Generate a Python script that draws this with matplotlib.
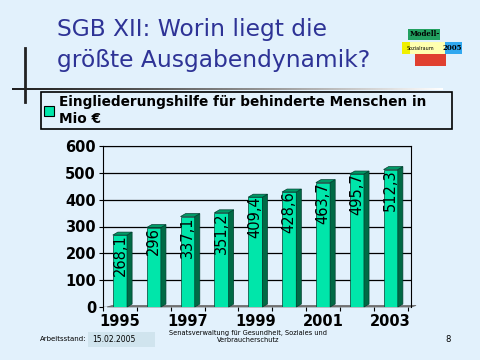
import numpy as np
import matplotlib
matplotlib.use("Agg")
import matplotlib.pyplot as plt
from matplotlib.patches import Polygon, Rectangle

# data
years = [1995, 1996, 1997, 1998, 1999, 2000, 2001, 2002, 2003]
values = [268.1, 296, 337.1, 351.2, 409.4, 428.6, 463.7, 495.7, 512.3]
labels = ["268,1", "296", "337,1", "351,2", "409,4", "428,6", "463,7", "495,7", "512,3"]
yticks = [0, 100, 200, 300, 400, 500, 600]
series_name = "Eingliederungshilfe für behinderte Menschen in\nMio €"

W, H = 480, 360
bg = "#E2F1FC"
front = "#00E6AA"
side = "#006A45"
title_col = "#2E3396"

plt.rcParams["font.family"] = ["DejaVu Sans"]
fig = plt.figure(figsize=(W / 100, H / 100), dpi=100, facecolor=bg)


def fx(px):
    return px / W


def fy(py):
    return 1 - py / H


# title
fig.text(fx(57), fy(18), "SGB XII: Worin liegt die\ngrößte Ausgabendynamik?",
         color=title_col, fontsize=16.8, va="top", ha="left", linespacing=1.42)

# cross lines
fig.add_artist(plt.Line2D([fx(25), fx(25)], [fy(48), fy(102)], color="#222222", lw=2))
gax = fig.add_axes([fx(12), fy(90), fx(443) - fx(12), fy(88) - fy(90)])
gax.imshow(np.linspace(0, 1, 256).reshape(1, -1) ** 1.2, aspect="auto", cmap="gray",
           vmin=-0.15, vmax=1.0)
gax.axis("off")

# chart
ax = fig.add_axes([fx(103), fy(307), fx(411) - fx(103), fy(146) - fy(307)])
ax.set_facecolor(bg)
x = np.arange(len(years))
bw = 0.42
dx, dy = 0.15, 11
ax.set_xlim(-0.38, 8.6)
ax.set_ylim(0, 600)
ax.set_yticks(yticks)
ax.grid(axis="y", color="black", lw=0.9)
ax.set_axisbelow(True)

# floor
ax.add_patch(Polygon([(-0.38, 0), (8.6, 0), (8.6 + dx, dy * 0.5), (-0.38 + dx, dy * 0.5)],
                     closed=True, facecolor="#7A7A7A", edgecolor="#606060", lw=0.5,
                     clip_on=False, zorder=2))

bars = ax.bar(x, values, width=bw, color=front, edgecolor="#004030", lw=0.5, zorder=4)
for xi, v in zip(x, values):
    r = xi + bw / 2
    l = xi - bw / 2
    ax.add_patch(Polygon([(r, 0), (r + dx, dy), (r + dx, v + dy), (r, v)], closed=True,
                         facecolor=side, edgecolor="#004030", lw=0.5, zorder=4, clip_on=False))
    ax.add_patch(Polygon([(l, v), (l + dx, v + dy), (r + dx, v + dy), (r, v)], closed=True,
                         facecolor="#009A66", edgecolor="#004030", lw=0.5, zorder=4, clip_on=False))
for xi, v, t in zip(x, values, labels):
    ax.text(xi, v + 2, t, rotation=90, ha="center", va="top", fontsize=10.5,
            color="black", zorder=6)

for s in ["top", "right", "left"]:
    ax.spines[s].set_color("black")
    ax.spines[s].set_linewidth(0.8)
ax.spines["bottom"].set_visible(False)
ax.set_xticks(np.arange(-0.5, 9.0, 1.0))
ax.set_xticklabels([])
ax.set_xticks(x[::2], minor=True)
ax.set_xticklabels([str(y) for y in years[::2]], minor=True)
ax.tick_params(axis="x", which="major", length=3, direction="out", color="black")
ax.tick_params(axis="x", which="minor", length=0, pad=5)
ax.tick_params(axis="y", length=3, pad=2)
for lab in ax.get_xticklabels(minor=True) + ax.get_yticklabels():
    lab.set_fontsize(10.5)
    lab.set_fontweight("bold")

# legend
leg = fig.legend([bars], [series_name], loc="upper left",
                 bbox_to_anchor=(fx(41), fy(129), fx(452) - fx(41), fy(92) - fy(129)),
                 mode="expand", fancybox=False,
                 edgecolor="black", facecolor=bg, framealpha=1, borderaxespad=0,
                 handlelength=0.7, handleheight=0.7, handletextpad=0.4,
                 prop={"size": 9.8, "weight": "bold"}, borderpad=0.25)
leg.get_frame().set_linewidth(1.2)
leg.legend_handles[0].set_edgecolor("black")
leg.legend_handles[0].set_linewidth(0.8)

# logo
fig.patches.append(Rectangle((fx(408), fy(40)), fx(440) - fx(408), fy(29) - fy(40),
                             transform=fig.transFigure, facecolor="#22A060", edgecolor="none"))
fig.patches.append(Rectangle((fx(402), fy(54)), fx(462) - fx(402), fy(42) - fy(54),
                             transform=fig.transFigure, facecolor="#FFFFB0", edgecolor="none"))
fig.patches.append(Rectangle((fx(445), fy(54)), fx(462) - fx(445), fy(42) - fy(54),
                             transform=fig.transFigure, facecolor="#30A8F0", edgecolor="none"))
fig.patches.append(Rectangle((fx(402), fy(54)), fx(410) - fx(402), fy(42) - fy(54),
                             transform=fig.transFigure, facecolor="#F0F000", edgecolor="none"))
fig.patches.append(Rectangle((fx(415), fy(66)), fx(446) - fx(415), fy(54) - fy(66),
                             transform=fig.transFigure, facecolor="#E04030", edgecolor="none"))
fig.text(fx(425), fy(34.5), "Modell-", fontsize=5, ha="center", va="center", weight="bold",
         family="DejaVu Serif")
fig.text(fx(452), fy(48), "2005", fontsize=5, ha="center", va="center", weight="bold",
         family="DejaVu Serif")
fig.text(fx(420), fy(48), "Sozialraum", fontsize=3.5, ha="center", va="center")

# footer
fig.text(fx(40), fy(339), "Arbeitsstand:", fontsize=5, va="center", ha="left")
fig.patches.append(Rectangle((fx(88), fy(347)), fx(155) - fx(88), fy(332) - fy(347),
                             transform=fig.transFigure, facecolor="#D0E4EE", edgecolor="none"))
fig.text(fx(92), fy(339), "15.02.2005", fontsize=5.5, va="center", ha="left")
fig.text(fx(248), fy(337), "Senatsverwaltung für Gesundheit, Soziales und\nVerbraucherschutz",
         fontsize=4.8, va="center", ha="center", linespacing=1.2)
fig.text(fx(448), fy(339), "8", fontsize=6, va="center", ha="center")

fig.savefig("out.png", dpi=100, facecolor=bg)
